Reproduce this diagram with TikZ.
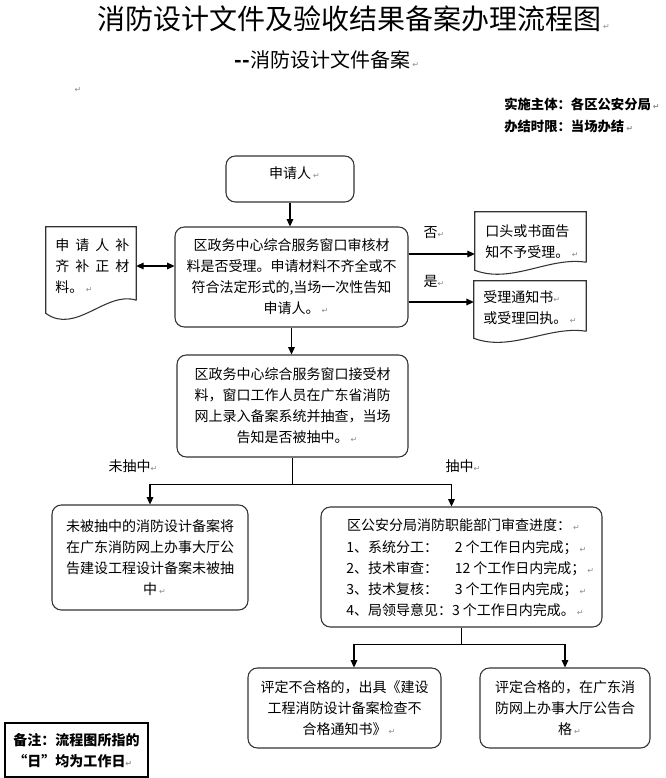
\documentclass[tikz,border=0pt]{standalone}
\usepackage{fontspec}
\setmainfont{Noto Sans CJK SC}
\newfontfamily\djv{DejaVu Sans}
\usetikzlibrary{arrows.meta,calc}
\newcommand\parmk{{\djv\fontsize{6}{6}\selectfont\color{black!45}↵}}
\newcommand\pmk{\rlap{\hspace{1.5pt}\parmk}}
\tikzset{
  bx/.style={draw=black!80, line width=0.8pt, rounded corners=7pt, align=center, inner sep=0pt,
    font=\fontsize{10.5}{15.75}\selectfont},
  doc/.style={inner sep=0pt},
  txt/.style={inner sep=0pt, align=left, font=\fontsize{10.5}{15.75}\selectfont},
  arr/.style={-{Triangle[length=5.5pt,width=5pt]}, line width=0.8pt},
  dbl/.style={{Triangle[length=5.5pt,width=5pt]}-{Triangle[length=5.5pt,width=5pt]}, line width=0.8pt},
  ln/.style={line width=0.8pt},
  outl/.style={draw=black!80, line width=0.8pt}
}
\begin{document}
\begin{tikzpicture}[x=0.75pt,y=-0.75pt]
\useasboundingbox (0,0) rectangle (665,778);
% titles
\node[inner sep=0pt, font=\fontsize{21}{24}\selectfont] (title) at (349,19) {消防设计文件及验收结果备案办理流程图\pmk};
\node[inner sep=0pt, anchor=west, font=\fontsize{15}{18}\selectfont] (sub) at (234,60) {\textbf{-\kern0.6pt-}消防设计文件备案\pmk};
\node[inner sep=0pt] (pm0) at (78,90) {\parmk};
\node[txt, anchor=west, font=\bfseries\fontsize{10}{12}\selectfont] (impl) at (504,104) {实施主体：各区公安分局\pmk};
\node[txt, anchor=west, font=\bfseries\fontsize{10}{12}\selectfont] (lim) at (504,126) {办结时限：当场办结\pmk};

% main boxes
\node[bx, minimum width=96pt, minimum height=34.5pt] (apply) at (290,179) {};
\node[txt] (applyt) at (290,173) {申请人\pmk};
\node[bx, minimum width=174.75pt, minimum height=75pt] (b2) at (291.5,277)
  {区政务中心综合服务窗口审核材\\料是否受理。申请材料不齐全或不\\符合法定形式的,当场一次性告知\\申请人。\pmk};
\node[bx, minimum width=173.25pt, minimum height=76.5pt] (b3) at (292.5,406)
  {区政务中心综合服务窗口接受材\\料，窗口工作人员在广东省消防\\网上录入备案系统并抽查，当场\\告知是否被抽中。\pmk};
\node[bx, minimum width=147pt, minimum height=78.75pt] (b4) at (150,557.5)
  {未被抽中的消防设计备案将\\在广东消防网上办事大厅公\\告建设工程设计备案未被抽\\中\pmk};
\node[bx, minimum width=210.75pt, minimum height=90pt] (b5) at (461.5,567) {};
\node[txt] (b5h) at (459,525) {区公安分局消防职能部门审查进度：\pmk};
\node[txt, anchor=west] (b5t) at (346,579)
  {\makebox[7.75em][l]{1、系统分工：}2 个工作日内完成；\pmk\\
   \makebox[7.75em][l]{2、技术审查：}12 个工作日内完成；\pmk\\
   \makebox[7.75em][l]{3、技术复核：}3 个工作日内完成；\pmk\\
   4、局领导意见：3 个工作日内完成。\pmk};
\node[bx, minimum width=144.75pt, minimum height=60pt] (b6) at (344.5,708)
  {评定不合格的，出具《建设\\工程消防设计备案检查不\\合格通知书》\pmk};
\node[bx, minimum width=127.5pt, minimum height=60pt] (b7) at (565,708)
  {评定合格的，在广东消\\防网上办事大厅公告合\\格\pmk};

% document shapes
\node[doc, minimum width=67.5pt, minimum height=54.75pt] (dL) at (91,263.5) {};
\draw[outl] (dL.south east) -- (dL.north east) -- (dL.north west) -- ($(dL.south west)+(0,13)$)
  .. controls ($(dL.south west)!0.33!(dL.south east)+(0,35)$) and ($(dL.south west)!0.67!(dL.south east)+(0,-10)$) .. (dL.south east);
\node[txt, anchor=west] (dLt) at (55,266) {申\hspace{4.5pt}请\hspace{4.5pt}人\hspace{4.5pt}补\\齐\hspace{4.5pt}补\hspace{4.5pt}正\hspace{4.5pt}材\\料。\hspace{2pt}\parmk};

\node[doc, minimum width=83.25pt, minimum height=37.5pt] (d1) at (530.5,237) {};
\draw[outl] (d1.south east) -- (d1.north east) -- (d1.north west) -- ($(d1.south west)+(0,8)$)
  .. controls ($(d1.south west)!0.33!(d1.south east)+(0,22)$) and ($(d1.south west)!0.67!(d1.south east)+(0,-6)$) .. (d1.south east);
\node[txt, anchor=west] (d1t) at (485,241.5) {口头或书面告\\知不予受理。\hspace{2pt}\parmk};

\node[doc, minimum width=84pt, minimum height=37.5pt] (d2) at (530,306) {};
\draw[outl] (d2.south east) -- (d2.north east) -- (d2.north west) -- ($(d2.south west)+(0,7)$)
  .. controls ($(d2.south west)!0.33!(d2.south east)+(0,21)$) and ($(d2.south west)!0.67!(d2.south east)+(0,-6)$) .. (d2.south east);
\node[txt, anchor=west] (d2t) at (483,308) {受理通知书\parmk\\或受理回执。\hspace{2pt}\parmk};

% note
\node[draw=black, line width=0.8pt, minimum width=107.25pt, minimum height=40.5pt, inner sep=0pt] (note) at (76.5,750) {};
\node[txt, align=left, font=\bfseries\fontsize{10.5}{15.75}\selectfont] (notet) at (76.5,750.5) {备注：流程图所指的\\“日”均为工作日\parmk};

% labels
\node[txt] (no) at (434,233) {否\parmk};
\node[txt] (yes) at (434,281) {是\parmk};
\node[txt] (l1) at (133,466) {未抽中\parmk};
\node[txt] (l2) at (463,466) {抽中\parmk};

% connectors
\draw[arr] (apply.south) -- (apply.south |- b2.north);
\draw[dbl] (dL.east |- 0,266) -- (b2.west |- 0,266);
\draw[arr] (b2.east |- 0,254) -- (d1.west |- 0,254);
\draw[arr] (b2.east |- 0,302) -- (d2.west |- 0,302);
\draw[arr] (b2.south) -- (b2.south |- b3.north);
\draw[ln] (b3.south) -- ++(0,27) coordinate (j1);
\draw[arr] (j1) -| (b4.north);
\draw[arr] (j1) -| ($(b5.north)+(-10,0)$);
\draw[ln] (b5.south) -- ++(0,17) coordinate (j2);
\draw[arr] (j2) -| ($(b6.north)+(9.5,0)$);
\draw[arr] (j2) -| (b7.north);
\end{tikzpicture}
\end{document}
